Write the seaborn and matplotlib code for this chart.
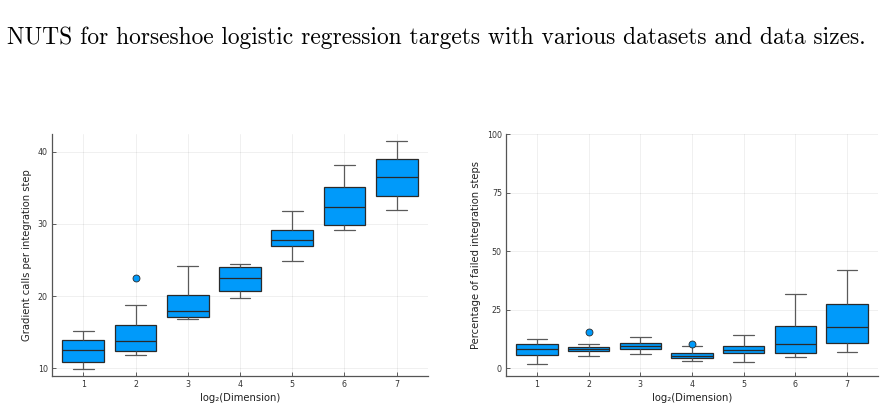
import matplotlib.pyplot as plt
import seaborn as sns
import pandas as pd

dims = [1, 2, 3, 4, 5, 6, 7]

# gradient calls per integration step (whisker low, q1, median, q3, whisker high, outlier)
grad_lo = [9.9, 11.9, 16.8, 19.8, 24.8, 29.1, 31.9]
grad_q1 = [10.9, 12.45, 17.05, 20.75, 27.0, 29.8, 33.9]
grad_med = [12.5, 13.75, 18.0, 22.45, 27.7, 32.3, 36.55]
grad_q3 = [13.9, 16.05, 20.1, 24.05, 29.1, 35.05, 39.05]
grad_hi = [15.2, 18.75, 24.15, 24.45, 31.85, 38.1, 41.5]
grad_out = [None, 22.5, None, None, None, None, None]

# percentage of failed integration steps
fail_lo = [1.7, 5.3, 6.3, 3.3, 2.6, 4.7, 6.8]
fail_q1 = [5.6, 7.4, 8.1, 4.4, 6.4, 6.4, 10.8]
fail_med = [8.4, 8.4, 9.4, 5.4, 7.8, 10.3, 17.5]
fail_q3 = [10.5, 9.1, 10.8, 6.55, 9.7, 17.95, 27.35]
fail_hi = [12.5, 10.25, 13.5, 9.7, 14.25, 31.6, 42.2]
fail_out = [None, 15.7, None, 10.3, None, None, None]

title = "NUTS for horseshoe logistic regression targets with various datasets and data sizes."
xlab = "log₂(Dimension)"
ylab_grad = "Gradient calls per integration step"
ylab_fail = "Percentage of failed integration steps"


def long_table(lo, q1, med, q3, hi, out):
    # small samples whose quartiles / whiskers reproduce the drawn boxes
    rows = []
    for d, a, b, c, e, f, o in zip(dims, lo, q1, med, q3, hi, out):
        if o is None:
            vals = [a, b, c, e, f]
        else:
            vals = [a, b, b, c, c, e, e, f, o]
        rows += [(str(d), v) for v in vals]
    return pd.DataFrame(rows, columns=["dim", "value"])


grad = long_table(grad_lo, grad_q1, grad_med, grad_q3, grad_hi, grad_out)
fail = long_table(fail_lo, fail_q1, fail_med, fail_q3, fail_hi, fail_out)

sns.set_style("ticks")
plt.rcParams['font.family'] = ['DejaVu Sans']

W, H = 886, 411
fig = plt.figure(figsize=(W / 100, H / 100), dpi=100)
ax1 = fig.add_axes([52 / W, (H - 376) / H, 376 / W, 242 / H])
ax2 = fig.add_axes([506 / W, (H - 376) / H, 372 / W, 242 / H])

blue = "#009AFA"
dark = "#2a2a2a"
for ax, df, ylab, ylim, yt in [
    (ax1, grad, ylab_grad, (8.93, 42.45), [10, 20, 30, 40]),
    (ax2, fail, ylab_fail, (-3.3, 100.2), [0, 25, 50, 75, 100]),
]:
    sns.boxplot(data=df, x="dim", y="value", ax=ax, color=blue, saturation=1,
                width=0.8, linecolor=dark, linewidth=0.9, fliersize=5,
                whiskerprops=dict(color="#5a5a5a"), capprops=dict(color="#5a5a5a"),
                flierprops=dict(marker="o", markerfacecolor=blue, markeredgecolor=dark,
                                markeredgewidth=0.6))
    ax.set_xlim(-0.6, 6.6)
    ax.set_ylim(*ylim)
    ax.set_yticks(yt)
    ax.set_xlabel(xlab, fontsize=7.2, color="#222222", labelpad=3)
    ax.set_ylabel(ylab, fontsize=7.2, color="#222222", labelpad=4)
    ax.tick_params(direction="in", length=3, width=0.6, labelsize=5.7,
                   colors="#444444", labelcolor="#333333", pad=3)
    ax.grid(True, color="#000000", alpha=0.07, linewidth=0.6)
    ax.set_axisbelow(True)
    for s in ["top", "right"]:
        ax.spines[s].set_visible(False)
    for s in ["left", "bottom"]:
        ax.spines[s].set_color("#555555")
        ax.spines[s].set_linewidth(0.9)

fig.text(7 / W, 1 - 38 / H, title, family="cmr10", fontsize=16.9, color="black",
         va="center", ha="left")

plt.savefig("out.png", dpi=100)
